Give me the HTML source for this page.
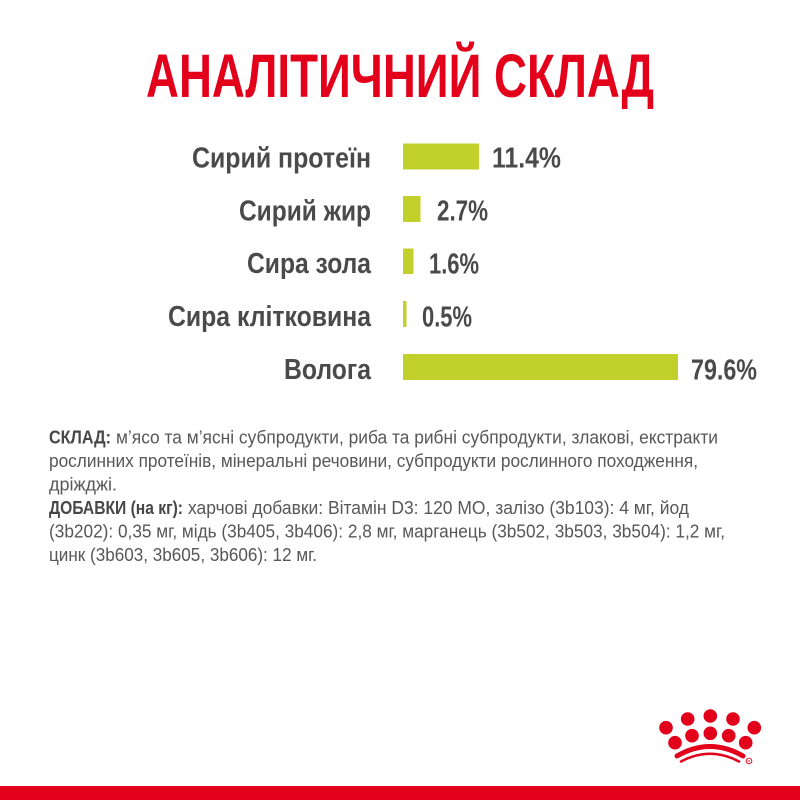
<!DOCTYPE html>
<html>
<head>
<meta charset="utf-8">
<style>
  html,body{margin:0;padding:0;background:#fff;}
  svg{display:block;}
  .t{font-family:"Liberation Sans Narrow","Liberation Sans","Noto Sans CJK SC",sans-serif;}
</style>
</head>
<body>
<svg width="800" height="800" viewBox="0 0 800 800" xmlns="http://www.w3.org/2000/svg">
  <rect x="0" y="0" width="800" height="800" fill="#ffffff"/>

  <!-- Title -->
  <text class="t" x="146" y="97" font-size="61" font-weight="bold" fill="#e2001a" textLength="508" lengthAdjust="spacingAndGlyphs">АНАЛІТИЧНИЙ СКЛАД</text>

  <!-- Labels -->
  <g class="t" font-size="28.5" font-weight="bold" fill="#4a4a4a">
    <text x="192" y="167.5" textLength="179" lengthAdjust="spacingAndGlyphs">Сирий протеїн</text>
    <text x="239" y="220.5" textLength="132" lengthAdjust="spacingAndGlyphs">Сирий жир</text>
    <text x="247" y="273" textLength="124" lengthAdjust="spacingAndGlyphs">Сира зола</text>
    <text x="168" y="326" textLength="203" lengthAdjust="spacingAndGlyphs">Сира клітковина</text>
    <text x="284" y="379" textLength="87" lengthAdjust="spacingAndGlyphs">Волога</text>
  </g>

  <!-- Bars -->
  <g fill="#c1d02b">
    <rect x="403" y="143.5" width="76" height="26"/>
    <rect x="403" y="196" width="17.5" height="26"/>
    <rect x="403" y="248.5" width="10.5" height="25.5"/>
    <rect x="403" y="301" width="3.5" height="26"/>
    <rect x="403" y="354" width="275" height="26"/>
  </g>

  <!-- Values -->
  <g class="t" font-size="28.5" font-weight="bold" fill="#4a4a4a">
    <text x="492" y="167.5" textLength="69" lengthAdjust="spacingAndGlyphs">11.4%</text>
    <text x="437" y="220.5" textLength="51" lengthAdjust="spacingAndGlyphs">2.7%</text>
    <text x="429" y="273.5" textLength="50" lengthAdjust="spacingAndGlyphs">1.6%</text>
    <text x="422" y="326.5" textLength="50" lengthAdjust="spacingAndGlyphs">0.5%</text>
    <text x="691" y="379.5" textLength="66" lengthAdjust="spacingAndGlyphs">79.6%</text>
  </g>

  <!-- Body text -->
  <g class="t" font-size="18.5" fill="#575757">
    <text x="49" y="443.5" font-weight="bold" fill="#474747" textLength="62" lengthAdjust="spacingAndGlyphs">СКЛАД:</text>
    <text x="116" y="443.5" textLength="602" lengthAdjust="spacingAndGlyphs">м’ясо та м’ясні субпродукти, риба та рибні субпродукти, злакові, екстракти</text>
    <text x="49" y="467" textLength="649" lengthAdjust="spacingAndGlyphs">рослинних протеїнів, мінеральні речовини, субпродукти рослинного походження,</text>
    <text x="49" y="490.5" textLength="68" lengthAdjust="spacingAndGlyphs">дріжджі.</text>
    <text x="49" y="514" font-weight="bold" fill="#474747" textLength="134" lengthAdjust="spacingAndGlyphs">ДОБАВКИ (на кг):</text>
    <text x="188" y="514" textLength="501" lengthAdjust="spacingAndGlyphs">харчові добавки: Вітамін D3: 120 МО, залізо (3b103): 4 мг, йод</text>
    <text x="49" y="537.5" textLength="676" lengthAdjust="spacingAndGlyphs">(3b202): 0,35 мг, мідь (3b405, 3b406): 2,8 мг, марганець (3b502, 3b503, 3b504): 1,2 мг,</text>
    <text x="49" y="561" textLength="268" lengthAdjust="spacingAndGlyphs">цинк (3b603, 3b605, 3b606): 12 мг.</text>
  </g>

  <!-- Crown logo -->
  <g fill="#e2001a">
    <circle cx="666" cy="727.7" r="6.8"/>
    <circle cx="687.7" cy="719" r="6.8"/>
    <circle cx="710.3" cy="716" r="6.8"/>
    <circle cx="733" cy="719" r="6.8"/>
    <circle cx="754.3" cy="727.7" r="6.8"/>
    <circle cx="675" cy="742.7" r="6.8"/>
    <circle cx="692" cy="735.7" r="6.8"/>
    <circle cx="710.3" cy="733.3" r="6.8"/>
    <circle cx="728.7" cy="735.7" r="6.8"/>
    <circle cx="745.7" cy="742.7" r="6.8"/>
  </g>
  <path d="M 677 756 Q 710 737 743 756" fill="none" stroke="#e2001a" stroke-width="5" stroke-linecap="round"/>
  <path d="M 681 761.5 Q 710 746 739 761.5" fill="none" stroke="#e2001a" stroke-width="2.6" stroke-linecap="round"/>
  <circle cx="749" cy="761" r="2.8" fill="none" stroke="#e2001a" stroke-width="0.9"/>
  <text x="749" y="762.6" font-size="4" text-anchor="middle" fill="#e2001a" font-family="Liberation Sans, sans-serif">R</text>

  <!-- Bottom red band -->
  <rect x="0" y="786" width="800" height="14" fill="#e2001a"/>
</svg>
</body>
</html>
